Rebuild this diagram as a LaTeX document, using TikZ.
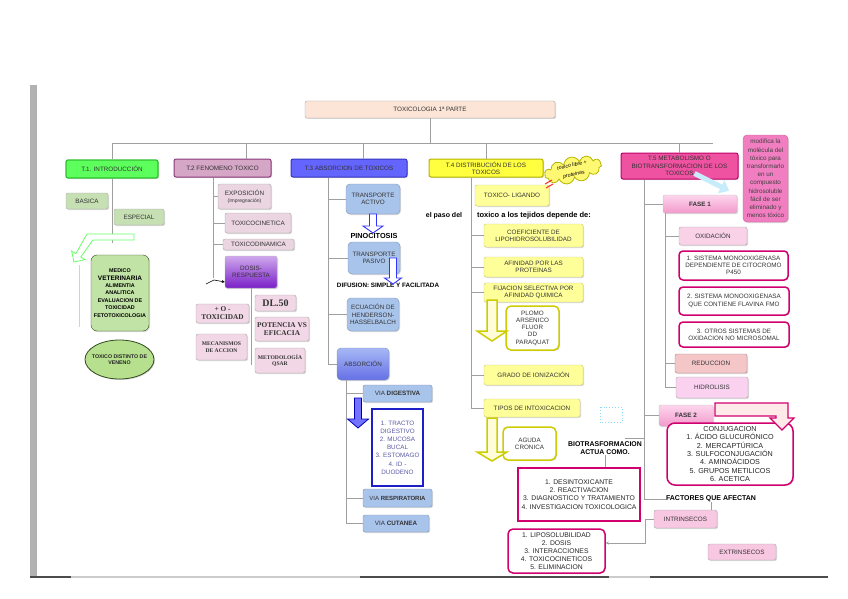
\documentclass[tikz,border=0pt]{standalone}
\usepackage{fontspec}
\setmainfont{Liberation Sans}
\newfontfamily\timesfont{Liberation Serif}
\usetikzlibrary{shapes.geometric,shapes.symbols,shadows,arrows.meta}

\definecolor{peach}{HTML}{FCE4D6}
\definecolor{introgreen}{HTML}{5CFF5C}
\definecolor{introline}{HTML}{2EC02E}
\definecolor{palegreen}{HTML}{C6E0B4}
\definecolor{medgreen}{HTML}{C2E3A6}
\definecolor{ovalgreen}{HTML}{B6DF8E}
\definecolor{darkgreen}{HTML}{2F4A1E}
\definecolor{mauve}{HTML}{D5A6C6}
\definecolor{plum}{HTML}{8B3A7A}
\definecolor{palemauve}{HTML}{EAD5E0}
\definecolor{violettop}{HTML}{CFA8EC}
\definecolor{violetbot}{HTML}{7A1FC8}
\definecolor{rosepale}{HTML}{F2D8E6}
\definecolor{absblue}{HTML}{6464FF}
\definecolor{absline}{HTML}{3434C0}
\definecolor{skyblue}{HTML}{A9C4EB}
\definecolor{skyline}{HTML}{7D93B5}
\definecolor{abstop}{HTML}{A6B8F5}
\definecolor{absbot}{HTML}{6670E6}
\definecolor{deepblue}{HTML}{1E1EC8}
\definecolor{distyellow}{HTML}{FFFF40}
\definecolor{distline}{HTML}{B4B400}
\definecolor{paleyellow}{HTML}{FFFF99}
\definecolor{yellowline}{HTML}{C8C878}
\definecolor{olive}{HTML}{CCCC00}
\definecolor{metapink}{HTML}{F052A2}
\definecolor{metaline}{HTML}{C0006A}
\definecolor{notepink}{HTML}{F27EC2}
\definecolor{fasetop}{HTML}{FDD6EC}
\definecolor{fasebot}{HTML}{F39ACD}
\definecolor{palepink}{HTML}{FAD2E8}
\definecolor{salmon}{HTML}{F4C6C8}
\definecolor{salmonline}{HTML}{A88484}
\definecolor{lilacpink}{HTML}{FAD2F0}
\definecolor{magentaline}{HTML}{D0006F}
\definecolor{softpink}{HTML}{F8C8E2}

\newcommand{\fs}{\fontsize{6.3}{7.3}\selectfont}
% x, y top, y tip, half shaft, half head, head length, style
\newcommand{\blockdown}[7]{\draw[#7] ({#1-#4},#2) -- ({#1+#4},#2) -- ({#1+#4},{#3-#6}) -- ({#1+#5},{#3-#6}) -- (#1,#3) -- ({#1-#5},{#3-#6}) -- ({#1-#4},{#3-#6}) -- cycle;}

\tikzset{
  bx/.style={draw=gray!70, rounded corners=2pt, inner sep=1pt, align=center, font=\fs, text=black!80,
    drop shadow={opacity=.3, shadow xshift=1pt, shadow yshift=-1pt}},
  sz/.style 2 args={minimum width=#1pt, minimum height=#2pt},
  lbl/.style={font=\fontsize{7.3}{8.5}\selectfont\bfseries, inner sep=0pt, align=center},
  ln/.style={draw=gray!75, line width=0.8pt},
  hot/.style={fill=white, draw=magentaline, line width=1.5pt, rounded corners=4pt}
}

\begin{document}
\begin{tikzpicture}[x=1pt,y=-1pt]
\useasboundingbox (0,0) rectangle (848,599);

% frame
\fill[gray!60] (30,85) rectangle (37,578);
\draw[black!70, line width=2pt] (30,577) -- (828,577);
\draw[gray!40, line width=1.6pt] (71,577) -- (360,577) (609,577) -- (650,577);

% title
\node[bx, sz={250}{17}, fill=peach] (top) at (430,109.5) {TOXICOLOGIA 1ª PARTE};

% T.1
\node[bx, sz={92}{18}, fill=introgreen, draw=introline, line width=1.2pt] (t1) at (112,169) {T.1. INTRODUCCIÓN};
\node[bx, sz={42}{16}, fill=palegreen] (basica) at (87,201) {BASICA};
\node[bx, sz={50}{16}, fill=palegreen] (especial) at (139,217) {ESPECIAL};
\node[bx, sz={58}{76}, fill=medgreen, draw=darkgreen, rounded corners=6pt, font=\fontsize{5.4}{7.4}\selectfont\bfseries, text=black] (medico) at (120,293)
  {MEDICO\\{\fontsize{6.5}{7}\selectfont VETERINARIA}\\ALIMENTIA\\ANALITICA\\EVALUACION DE\\TOXICIDAD\\FETOTOXICOLOGIA};
\node[ellipse, draw=darkgreen, fill=ovalgreen, line width=0.8pt, sz={69}{39}, inner sep=0pt,
  drop shadow={opacity=.3, shadow xshift=1pt, shadow yshift=-1pt},
  label={[font=\fontsize{5.3}{6.3}\selectfont\bfseries, align=center, text=black!85]center:TOXICO DISTINTO DE\\VENENO}] (veneno) at (119.5,359.5) {};

% T.2
\node[bx, sz={97}{18}, fill=mauve, draw=plum, line width=1pt] (t2) at (222.5,168) {T.2 FENOMENO TOXICO};
\node[bx, sz={53}{25}, fill=palemauve] (expo) at (244.5,196.5) {EXPOSICIÓN\\{\fontsize{5}{6}\selectfont(Impregnación)}};
\node[bx, sz={66}{20}, fill=palemauve] (cine) at (258,223) {TOXICOCINETICA};
\node[bx, sz={71}{11}, fill=palemauve] (dina) at (258.5,244.5) {TOXICODINAMICA};
\node[bx, sz={52}{32}, top color=violettop, bottom color=violetbot, draw=gray!60] (dosis) at (251,272) {DOSIS-\\RESPUESTA};
\node[bx, sz={41}{16}, fill=rosepale, font=\timesfont\bfseries\fontsize{10}{11}\selectfont] (dl) at (275.5,303) {DL.50};
\node[bx, sz={53}{19}, fill=rosepale, font=\timesfont\bfseries\fontsize{7.3}{8}\selectfont] (tox) at (222.5,313.5) {+ O -\\TOXICIDAD};
\node[bx, sz={54}{24}, fill=rosepale, font=\timesfont\bfseries\fontsize{7.3}{8.5}\selectfont] (pot) at (282,329) {POTENCIA VS\\EFICACIA};
\node[bx, sz={51}{26}, fill=rosepale, font=\timesfont\bfseries\fontsize{5.6}{6.6}\selectfont] (meca) at (221.5,347) {MECANISMOS\\DE ACCION};
\node[bx, sz={50}{25}, fill=rosepale, font=\timesfont\bfseries\fontsize{5.6}{6.6}\selectfont] (qsar) at (280,360.5) {METODOLOGÍA\\QSAR};

% T.3
\node[bx, sz={116}{18}, fill=absblue, draw=absline, line width=1pt] (t3) at (349,168) {T.3 ABSORCION DE TOXICOS};
\node[bx, sz={54}{30}, fill=skyblue, draw=skyline, rounded corners=4pt] (activo) at (373,199) {TRANSPORTE\\ACTIVO};
\node[bx, sz={52}{32}, fill=skyblue, draw=skyline, rounded corners=4pt] (pasivo) at (374,258) {TRANSPORTE\\PASIVO};
\node[bx, sz={52}{33}, fill=skyblue, draw=skyline, rounded corners=4pt] (ecua) at (373,314.5) {ECUACIÓN DE\\HENDERSON-\\HASSELBALCH};
\node[bx, sz={52}{32}, top color=abstop, bottom color=absbot, draw=skyline, rounded corners=4pt] (absor) at (363,364) {ABSORCIÓN};
\node[bx, sz={69}{17}, fill=skyblue, draw=skyline] (dige) at (397.5,393.5) {VIA \textbf{DIGESTIVA}};
\node[bx, sz={51}{77}, fill=white, draw=deepblue, line width=1.5pt, rounded corners=0pt, text=blue!30!gray, font=\fontsize{6.3}{8.2}\selectfont] (tracto) at (397.5,447.5)
  {1. TRACTO\\DIGESTIVO\\2. MUCOSA\\BUCAL\\3. ESTOMAGO\\4. ID -\\DUODENO};
\node[bx, sz={69}{18}, fill=skyblue, draw=skyline, font=\fontsize{6}{7}\selectfont] (resp) at (397.5,498) {VIA \textbf{RESPIRATORIA}};
\node[bx, sz={66}{17}, fill=skyblue, draw=skyline] (cuta) at (396,523.5) {VIA \textbf{CUTANEA}};
\node[lbl] (pino) at (374,236) {PINOCITOSIS};
\node[lbl, font=\fontsize{6.3}{7}\selectfont\bfseries] (difu) at (388,285) {DIFUSION: SIMPLE Y FACILITADA};

% T.4
\node[bx, sz={114}{18}, fill=distyellow, draw=distline, line width=1pt] (t4) at (486,168) {T.4 DISTRIBUCIÓN DE LOS\\TOXICOS};
\node[bx, sz={74}{21}, fill=paleyellow, draw=yellowline] (ligando) at (512,195.5) {TOXICO- LIGANDO};
\node[cloud, cloud puffs=11, aspect=2.2, draw=distline, fill=yellow!55, line width=0.8pt, rotate=12, inner sep=-4pt, sz={58}{26},
  font=\fontsize{5.3}{9}\selectfont\itshape, align=center] (libre) at (573,170) {toxico libre +\\proteinas};
\node[lbl, font=\fontsize{7}{8}\selectfont\bfseries] (paso) at (444,216) {el paso del};
\node[lbl, font=\fontsize{7.5}{8}\selectfont\bfseries] (depende) at (534,216) {toxico a los tejidos depende de:};
\node[bx, sz={99}{23}, fill=paleyellow, draw=yellowline] (coef) at (533.5,235.5) {COEFICIENTE DE\\LIPOHIDROSOLUBILIDAD};
\node[bx, sz={99}{20}, fill=paleyellow, draw=yellowline] (afin) at (533.5,267) {AFINIDAD POR LAS\\PROTEINAS};
\node[bx, sz={99}{19}, fill=paleyellow, draw=yellowline] (fija) at (533.5,292.5) {FIJACION SELECTIVA POR\\AFINIDAD QUIMICA};
\node[bx, sz={53}{44}, fill=white, draw=olive, line width=1.5pt, rounded corners=5pt] (plomo) at (532.5,328) {PLOMO\\ARSENICO\\FLUOR\\DD\\PARAQUAT};
\node[bx, sz={99}{20}, fill=paleyellow, draw=yellowline] (grado) at (533.5,375) {GRADO DE IONIZACIÓN};
\node[bx, sz={96}{18}, fill=paleyellow, draw=yellowline] (tipos) at (532,408) {TIPOS DE INTOXICACION};
\node[bx, sz={53}{33}, fill=white, draw=olive, line width=1.5pt, rounded corners=5pt] (aguda) at (529.5,443.5) {AGUDA\\CRONICA};

% T.5
\node[bx, sz={117}{26}, fill=metapink, draw=metaline, line width=1pt] (t5) at (679.5,166) {T.5 METABOLISMO O\\BIOTRANSFORMACION DE LOS\\TOXICOS};
\node[bx, sz={45}{87}, fill=notepink, draw=notepink!80!black, rounded corners=4pt, font=\fontsize{6.3}{8.2}\selectfont, text=black!75] (nota) at (765.5,178.5)
  {modifica la\\molécula del\\tóxico para\\transformarlo\\en un\\compuesto\\hidrosoluble\\fácil de ser\\eliminado y\\menos tóxico};
\node[bx, sz={74}{18}, top color=fasetop, bottom color=fasebot, draw=gray!50, font=\fs\bfseries] (fase1) at (700,204) {FASE 1};
\node[bx, sz={68}{18}, fill=palepink] (oxid) at (713,236) {OXIDACIÓN};
\node[bx, hot, sz={109}{29}] (sis1) at (733.5,265.5) {1. SISTEMA MONOOXIGENASA\\DEPENDIENTE DE CITOCROMO\\P450};
\node[bx, hot, sz={110}{28}] (sis2) at (734,301) {2. SISTEMA MONOOXIGENASA\\QUE CONTIENE FLAVINA FMO};
\node[bx, hot, sz={110}{25}] (sis3) at (734,334.5) {3. OTROS SISTEMAS DE\\OXIDACION NO MICROSOMAL};
\node[bx, sz={72}{19}, fill=salmon, draw=salmonline] (reduc) at (711,363.5) {REDUCCION};
\node[bx, sz={72}{21}, fill=lilacpink] (hidro) at (712,387.5) {HIDROLISIS};
\node[bx, sz={54}{21}, top color=fasetop, bottom color=fasebot, draw=gray!50, font=\fs\bfseries] (fase2) at (686,415.5) {FASE 2};
\node[bx, hot, sz={126}{62}, rounded corners=8pt, font=\fontsize{7.2}{8.4}\selectfont, text=black!85] (conj) at (730,454)
  {CONJUGACION\\1. ÁCIDO GLUCURÓNICO\\2. MERCAPTÚRICA\\3. SULFOCONJUGACIÓN\\4. AMINOÁCIDOS\\5. GRUPOS METILICOS\\6. ACETICA};
\node[lbl, font=\fontsize{6.9}{8.5}\selectfont\bfseries] (bio) at (605,448) {BIOTRASFORMACION\\ACTUA COMO.};
\node[bx, hot, sz={122}{53}, line width=1.3pt, rounded corners=0pt, font=\fontsize{6.8}{8.2}\selectfont, text=black!85] (desint) at (579,494.5)
  {1. DESINTOXICANTE\\2. REACTIVACION\\3. DIAGNOSTICO Y TRATAMIENTO\\4. INVESTIGACION TOXICOLOGICA};
\node[bx, hot, sz={97}{44}, rounded corners=5pt, font=\fontsize{6.8}{7.9}\selectfont, text=black!85] (lipo) at (556.5,551)
  {1. LIPOSOLUBILIDAD\\2. DOSIS\\3. INTERACCIONES\\4. TOXICOCINETICOS\\5. ELIMINACION};
\node[lbl, font=\fontsize{7}{8}\selectfont\bfseries] (fact) at (711,499) {FACTORES QUE AFECTAN};
\node[bx, sz={63}{18}, fill=softpink] (intrin) at (685.5,519) {INTRINSECOS};
\node[bx, sz={68}{16}, fill=softpink] (extrin) at (742,552) {EXTRINSECOS};

% tree lines
\coordinate (bar) at (430,143);
\coordinate (barend) at (713,143);
\draw[ln] (top.south) -- (bar);
\draw[ln] (t1.north) -- (t1.north |- bar) -- (barend);
\draw[ln] ([xshift=24pt]t2.north) -- ++(0,-16);
\draw[ln] ([xshift=14pt]t3.north) -- ++(0,-16);
\foreach \n in {t4,t5} \draw[ln] (\n.north) -- (\n.north |- bar);

\coordinate (t1end) at (112,243);
\draw[ln] (t1.south) -- (t1end);

\coordinate (t2end) at (213,278);
\draw[ln] (t2.south -| t2end) -- (t2end);
\foreach \n in {expo,cine,dina} \draw[ln] (\n.west -| t2end) -- (\n.west);
\coordinate (dsk) at (206,284);
\draw[-{Stealth[length=3pt,width=3pt]}, line width=0.6pt] (dsk) -- ++(8,-4) -- ([yshift=-10pt]dosis.west);
\coordinate (dosend) at (251,365);
\draw[ln] (dosis.south) -- (dosend);

\coordinate (t3end) at (328,364);
\draw[ln] (t3.south -| t3end) -- (t3end);
\foreach \n in {activo,pasivo,ecua,absor} \draw[ln] (\n.west -| t3end) -- (\n.west);
\coordinate (absend) at (346,523.5);
\draw[ln] (absor.south -| absend) -- (absend);
\foreach \n in {dige,resp,cuta} \draw[ln] (\n.west -| absend) -- (\n.west);

\coordinate (t4end) at (471,408);
\draw[ln] (t4.south -| t4end) -- (t4end);
\foreach \n in {coef,afin,fija,grado,tipos} \draw[ln] (\n.west -| t4end) -- (\n.west);

\coordinate (t5end) at (644,499);
\draw[ln] (t5.south -| t5end) -- (t5end) -- (fact.west);
\foreach \n in {fase1,fase2} \draw[ln] (\n.west -| t5end) -- (\n.west);
\coordinate (biotop) at (625,438);
\draw[ln] (biotop -| t5end) -- (biotop);
\draw[ln] (bio.south) -- (bio.south |- desint.north);
\coordinate (f1end) at (665,387.5);
\draw[ln] (fase1.south -| f1end) -- (f1end);
\foreach \n in {oxid,reduc,hidro} \draw[ln] (\n.west -| f1end) -- (\n.west);
\draw[ln] (fact.south) -- (fact.south |- intrin.north);
\draw[ln, -{Stealth[length=3pt,width=3pt]}] (intrin.west) -- ++(-8,0) |- ([yshift=8pt]lipo.east);

% block arrows
\coordinate (gtip) at (79,265);
\coordinate (gend) at (79,327);
\draw[gray!35, line width=0.8pt] (gtip) -- (gend);
\draw[draw=green!60, fill=white, line width=0.8pt] (134,234) -- (87,234) -- (75.8,253.7) -- (71.6,251) -- (74,262) -- (85,259.6) -- (80.8,256.9) -- (93,240) -- (134,240) -- cycle;
\blockdown{373}{214}{233}{3.5}{10}{7}{draw=blue!80, fill=white, line width=0.9pt}
\blockdown{393}{258}{284}{3.5}{8.5}{6}{draw=blue!80, fill=white, line width=0.9pt}
\blockdown{358}{398}{428}{3.5}{10.5}{9}{draw=blue!70!black, fill=blue!55!white, line width=0.8pt}
\blockdown{492}{300}{341}{5}{15}{10}{draw=olive, fill=yellow!15, line width=1.5pt}
\blockdown{492}{418}{461}{5}{15}{9}{draw=olive, fill=yellow!15, line width=1.5pt}
\draw[draw=magentaline, fill=pink!35, line width=1.2pt] (715,403) -- (788,403) -- (788,418) -- (794,418) -- (782,430) -- (770,418) -- (776,418) -- (776,416) -- (715,416) -- cycle;
\draw[-{Triangle[length=9pt,width=14pt]}, line width=5pt, cyan!22] ([xshift=15pt,yshift=6pt]t5.south) -- ([xshift=-8pt,yshift=4pt]fase1.north east);
\draw[red!85, line width=1pt] (545,184) -- (552,180) (546,188) -- (553,184);
\draw[cyan!45, dotted, line width=0.9pt] (600,407) rectangle (622,422);
\end{tikzpicture}
\end{document}
